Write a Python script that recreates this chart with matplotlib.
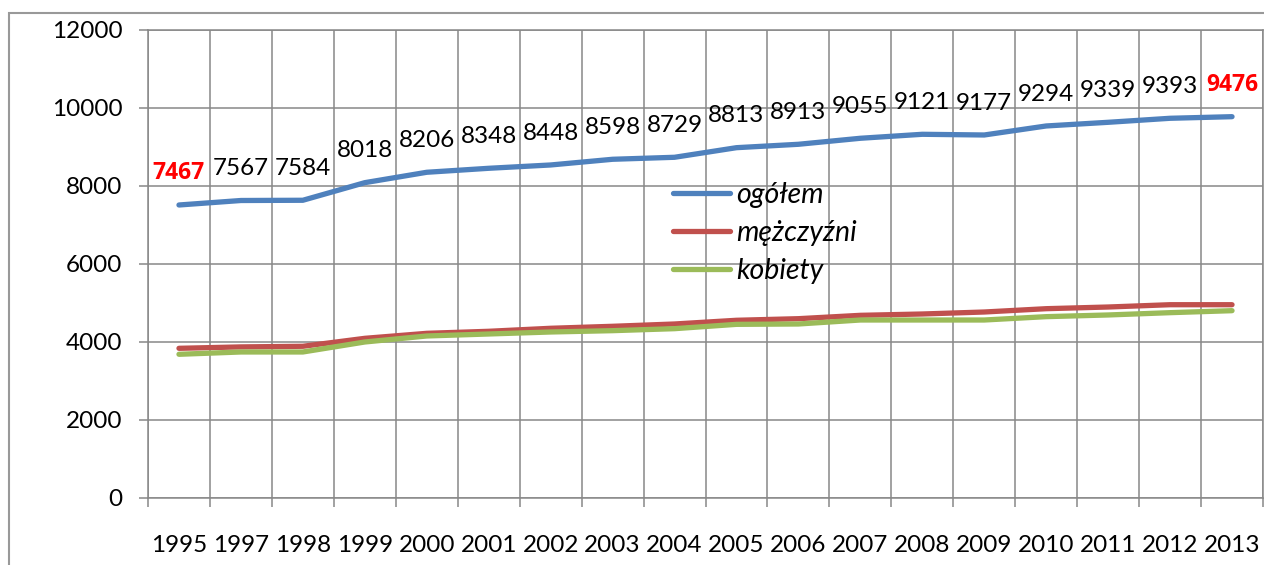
import matplotlib
matplotlib.use("Agg")
import matplotlib.pyplot as plt
from matplotlib.patches import Rectangle

plt.rcParams["font.family"] = ["Lato", "DejaVu Sans"]

years = ["1995", "1997", "1998", "1999", "2000", "2001", "2002", "2003", "2004",
         "2005", "2006", "2007", "2008", "2009", "2010", "2011", "2012", "2013"]
ogolem = [7505, 7620, 7626, 8077, 8343, 8445, 8530, 8676, 8727,
          8973, 9060, 9214, 9316, 9298, 9529, 9623, 9726, 9767]
mezczyzni = [3834, 3870, 3886, 4090, 4218, 4270, 4347, 4398, 4457,
             4552, 4593, 4679, 4713, 4764, 4849, 4892, 4951, 4951]
kobiety = [3681, 3740, 3740, 3996, 4150, 4201, 4252, 4286, 4337,
           4448, 4457, 4559, 4559, 4559, 4645, 4688, 4747, 4798]
ogolem_labels = [7467, 7567, 7584, 8018, 8206, 8348, 8448, 8598, 8729,
                 8813, 8913, 9055, 9121, 9177, 9294, 9339, 9393, 9476]

grid_color = "#888888"
fs = 17.5

fig = plt.figure(figsize=(12.64, 5.65), dpi=100)
fig.patches.append(Rectangle((9 / 1264, -0.1), 1.2, 1 - 13 / 565 + 0.1,
                             transform=fig.transFigure, fill=False,
                             edgecolor="#999999", linewidth=1.5))
ax = fig.add_axes([148 / 1264, 1 - 498 / 565, 1115 / 1264, 468.5 / 565])

x = list(range(len(years)))
ax.plot(x, ogolem, color="#4F81BD", lw=3.8, solid_capstyle="round", label="ogółem")
ax.plot(x, mezczyzni, color="#C0504D", lw=3.8, solid_capstyle="round", label="mężczyźni")
ax.plot(x, kobiety, color="#9BBB59", lw=3.8, solid_capstyle="round", label="kobiety")

for i, (v, lab) in enumerate(zip(ogolem, ogolem_labels)):
    if i == 0 or i == len(years) - 1:
        ax.annotate(str(lab), (i, v), xytext=(0, 23), textcoords="offset points",
                    ha="center", va="center", fontsize=fs - 1, color="red",
                    family=["Open Sans", "DejaVu Sans"], fontweight="bold")
    else:
        ax.annotate(str(lab), (i, v), xytext=(0, 23), textcoords="offset points",
                    ha="center", va="center", fontsize=fs, color="black")

ax.set_xlim(-0.5, len(years) - 0.5)
ax.set_ylim(0, 12000)
ax.set_yticks(range(0, 12001, 2000))
ax.set_xticks(x)
ax.set_xticklabels(years)
ax.set_xticks([i - 0.5 for i in range(len(years) + 1)], minor=True)

ax.tick_params(axis="x", which="major", length=0, pad=27, labelsize=fs)
ax.tick_params(axis="x", which="minor", length=6.5, width=1.1, color=grid_color)
ax.tick_params(axis="y", length=6.5, width=1.1, color=grid_color, pad=12, labelsize=fs)

ax.grid(True, axis="y", color=grid_color, lw=1.1)
ax.grid(True, axis="x", which="minor", color=grid_color, lw=1.1)
ax.set_axisbelow(True)
for s in ax.spines.values():
    s.set_color(grid_color)
    s.set_linewidth(1.1)

ax.legend(loc="upper left", bbox_to_anchor=(0.471, 0.674), frameon=False,
          borderaxespad=0, borderpad=0, handlelength=2.0, handletextpad=0.22,
          labelspacing=0.42, prop={"size": 20.5, "style": "italic"})

fig.savefig("out.png", dpi=100)
